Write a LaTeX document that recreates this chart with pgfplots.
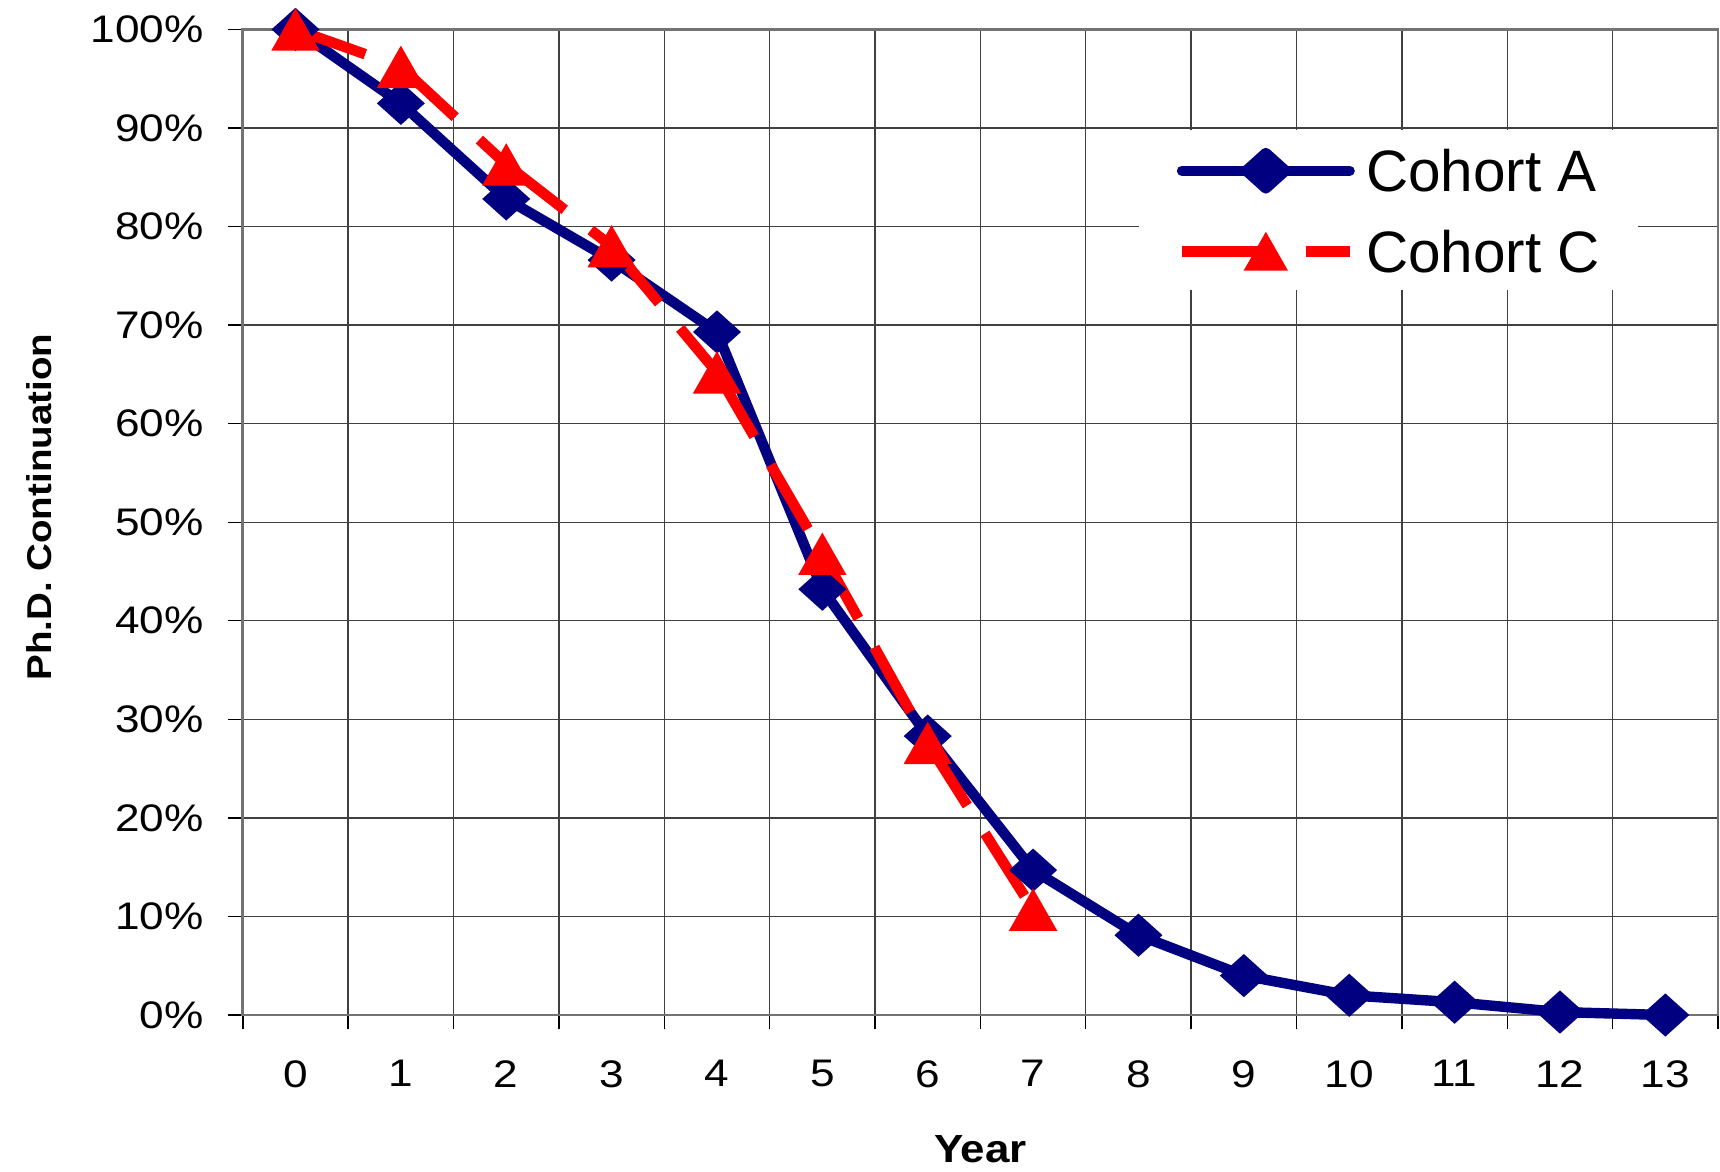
\documentclass[border=0pt]{standalone}
\usepackage{pgfplots}
\pgfplotsset{compat=1.18}
\usepackage{fontspec}
\setmainfont{Liberation Sans}
\newfontfamily\tickfont[FakeStretch=1.15]{Liberation Sans}
\newfontfamily\labfont[FakeStretch=1.12]{Liberation Sans}
\usetikzlibrary{calc}
\definecolor{navyA}{RGB}{0,0,128}
\definecolor{redC}{RGB}{255,0,0}
\pgfdeclareplotmark{xdiam}{%
  \pgfpathmoveto{\pgfqpoint{0pt}{5.4pt}}%
  \pgfpathlineto{\pgfqpoint{6pt}{0pt}}%
  \pgfpathlineto{\pgfqpoint{0pt}{-5.4pt}}%
  \pgfpathlineto{\pgfqpoint{-6pt}{0pt}}%
  \pgfpathclose
  \pgfusepathqfill}
\pgfdeclareplotmark{xtri}{%
  \pgfpathmoveto{\pgfqpoint{0pt}{5.3pt}}%
  \pgfpathlineto{\pgfqpoint{6.05pt}{-5.3pt}}%
  \pgfpathlineto{\pgfqpoint{-6.05pt}{-5.3pt}}%
  \pgfpathclose
  \pgfusepathqfill}
\begin{document}
\begin{tikzpicture}
\useasboundingbox (0,0) rectangle (430pt,292.75pt);
\begin{axis}[
  at={(60.7pt,39pt)}, anchor=south west,
  width=368.8pt, height=246.4pt, scale only axis,
  xmin=-0.5, xmax=13.5, ymin=0, ymax=100,
  xtick={-0.5,0.5,1.5,2.5,3.5,4.5,5.5,6.5,7.5,8.5,9.5,10.5,11.5,12.5,13.5},
  xticklabels={0,1,2,3,4,5,6,7,8,9,10,11,12,13},
  x tick label as interval,
  ytick={0,10,20,30,40,50,60,70,80,90,100},
  yticklabels={0\%,10\%,20\%,30\%,40\%,50\%,60\%,70\%,80\%,90\%,100\%},
  xtick pos=left, ytick pos=left,
  grid=major,
  major grid style={line width=0.35pt, draw=black!75},
  tick align=outside, major tick length=3.6pt,
  tick style={black, line width=0.35pt},
  axis line style={line width=0.7pt, draw=black!55},
  x axis line style={draw=black!70},
  clip=false,
  tick label style={font=\tickfont\fontsize{9.6}{11}\selectfont},
  yticklabel style={anchor=east, inner sep=0pt, xshift=-6pt},
  xticklabel style={anchor=north, inner sep=0pt, yshift=-7.5pt},
  xlabel={Year},
  ylabel={Ph.D. Continuation},
  xlabel style={at={($(axis description cs:0.5,0)+(0,-33.5pt)$)}, anchor=center, font=\labfont\bfseries\fontsize{9.8}{11}\selectfont},
  ylabel style={at={($(axis description cs:0,0.5)+(-51pt,3.75pt)$)}, anchor=center, font=\labfont\bfseries\fontsize{8.6}{10}\selectfont},
  legend style={at={(1,1)}, anchor=north east, xshift=-19.8pt, yshift=-25.0pt,
    draw=none, fill=white, inner xsep=9.5pt, inner ysep=4.4pt,
    row sep=9.3pt, column sep=2.8pt,
    font=\fontsize{14.6}{16}\selectfont,
    nodes={inner sep=0pt, text height=10.4pt, text depth=0pt}},
  legend cell align=left,
]
\addplot[navyA, line width=2.6pt, line join=round, line cap=round, mark=xdiam,
  legend image code/.code={
    \draw[navyA, line width=2.5pt, line cap=round] (0pt,0pt) -- (42pt,0pt);
    \begin{scope}[shift={(21pt,0pt)}, scale=0.82]\fill[navyA] (0pt,5.4pt) -- (6pt,0pt) -- (0pt,-5.4pt) -- (-6pt,0pt) -- cycle;\end{scope}
  }] coordinates {
  (0,100) (1,92.5) (2,82.8) (3,76.6) (4,69.3) (5,43.2) (6,28.3) (7,14.7)
  (8,8.1) (9,4.0) (10,2.0) (11,1.3) (12,0.3) (13,0.0)};
\addlegendentry{Cohort A}
\addplot[redC, line width=2.65pt, dash pattern=on 18.5pt off 8.25pt, forget plot] coordinates {(0,100) (1,96.2)};
\addplot[redC, line width=2.65pt, dash pattern=on 18.5pt off 8.25pt, forget plot] coordinates {(1,96.2) (2,86.3)};
\addplot[redC, line width=2.65pt, dash pattern=on 18.5pt off 8.25pt, forget plot] coordinates {(2,86.3) (3,78.0)};
\addplot[redC, line width=2.65pt, dash pattern=on 18.5pt off 8.25pt, forget plot] coordinates {(3,78.0) (4,65.2)};
\addplot[redC, line width=2.65pt, dash pattern=on 18.5pt off 8.25pt, forget plot] coordinates {(4,65.2) (5,46.8)};
\addplot[redC, line width=2.65pt, dash pattern=on 18.5pt off 8.25pt, forget plot] coordinates {(5,46.8) (6,27.6)};
\addplot[redC, line width=2.65pt, dash pattern=on 18.5pt off 8.25pt, forget plot] coordinates {(6,27.6) (7,10.7)};
\addplot[redC, only marks, mark=xtri,
  legend image code/.code={
    \draw[redC, line width=2.65pt, dash pattern=on 22pt off 9pt] (0pt,0pt) -- (42pt,0pt);
    \begin{scope}[shift={(21pt,0pt)}, scale=0.86]\fill[redC] (0pt,5.3pt) -- (6.05pt,-5.3pt) -- (-6.05pt,-5.3pt) -- cycle;\end{scope}
  }] coordinates {
  (0,100) (1,96.2) (2,86.3) (3,78.0) (4,65.2) (5,46.8) (6,27.6) (7,10.7)};
\addlegendentry{Cohort C}
\end{axis}
\end{tikzpicture}
\end{document}
